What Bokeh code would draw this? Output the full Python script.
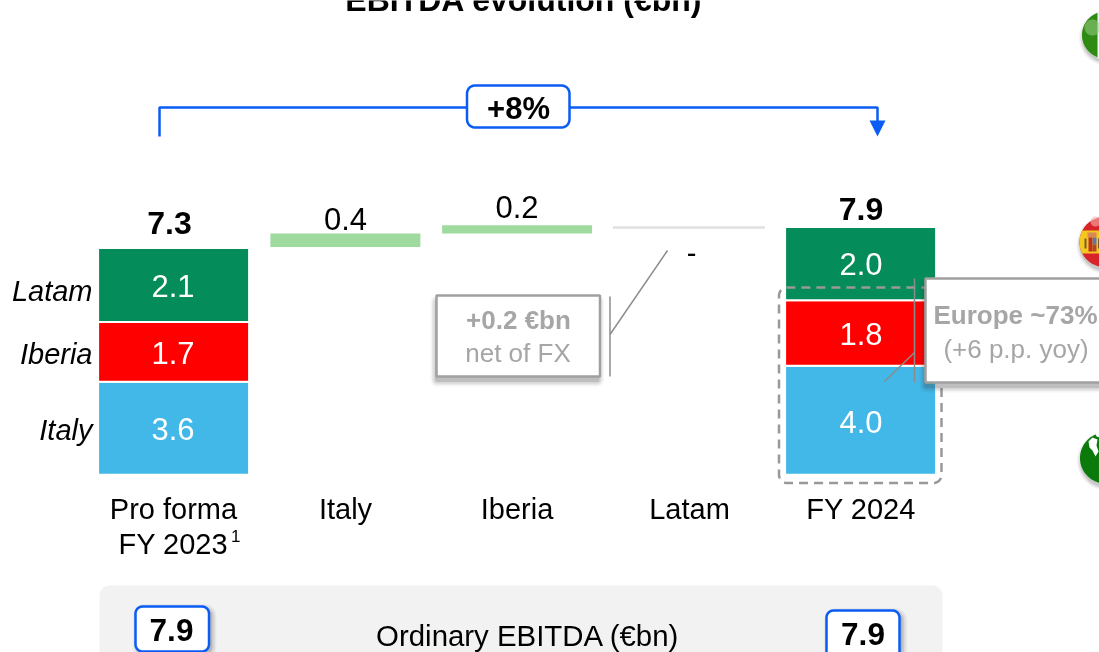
import numpy as np
from bokeh.plotting import figure
from bokeh.models import Range1d, ColumnDataSource
from bokeh.core.properties import value
from bokeh.embed import file_html
from bokeh.resources import INLINE

# ---------- data ----------
categories = ["Pro forma", "Italy", "Iberia", "Latam", "FY 2024"]
stack_names = ["Italy", "Iberia", "Latam"]
pro_forma_labels = ["3.6", "1.7", "2.1"]
fy2024_labels = ["4.0", "1.8", "2.0"]
pro_forma_heights = [3.58, 1.69, 2.09]
fy2024_heights = [4.03, 1.85, 2.07]
stack_colors = ["#41B8E8", "#FF0000", "#048C5A"]
axis_start = 0.952
bridge_x = [1, 2]
bridge_bottom = [7.39, 7.77]
bridge_top = [7.77, 8.00]
bridge_labels = ["0.4", "0.2"]
latam_level = 7.94
latam_label = "-"
totals = ["7.3", "7.9"]
growth = "+8%"
ordinary = ["7.9", "7.9"]

W, H = 1099, 652
F = "Liberation Sans"
BLUE = "#0A5CF5"
GRAY = "#A6A6A6"

PX0, PX_STEP = 173.1, 171.75
PY0, PY_STEP = 508.0, 35.4

p = figure(width=W, height=H, output_backend="svg", toolbar_location=None,
           x_range=Range1d(-PX0 / PX_STEP, (W - PX0) / PX_STEP),
           y_range=Range1d((PY0 - H) / PY_STEP, PY0 / PY_STEP),
           x_axis_type=None, y_axis_type=None, min_border=0,
           styles={"position": "fixed", "left": "0px", "top": "0px"},
           outline_line_color=None)
p.grid.visible = False
p.background_fill_color = "white"
p.border_fill_color = "white"
p.extra_x_ranges["px"] = Range1d(0, W)
p.extra_y_ranges["px"] = Range1d(H, 0)
PXR = dict(x_range_name="px", y_range_name="px")


def text(x, y, s, size=29, color="black", bold=False, italic=False, align="center"):
    style = "bold" if bold else ("italic" if italic else "normal")
    p.text(x=[x], y=[y - 0.36 * size], text=[s], text_font=value(F), text_font_size=f"{size}px",
           text_color=color, text_font_style=style, text_align=align,
           text_baseline="middle", **PXR)


def rrect(x0, y0, x1, y1, r):
    xs, ys = [], []
    for cx, cy, a0 in [(x1 - r, y0 + r, -90), (x1 - r, y1 - r, 0), (x0 + r, y1 - r, 90), (x0 + r, y0 + r, 180)]:
        t = np.radians(np.linspace(a0, a0 + 90, 7))
        xs += list(cx + r * np.cos(t))
        ys += list(cy + r * np.sin(t))
    return xs + xs[:1], ys + ys[:1]


def shadow(x0, y0, x1, y1, r=2, dx=3, dy=4):
    for g, a in [(5, .05), (3.5, .07), (2, .10), (.5, .16)]:
        xs, ys = rrect(x0 + dx - g, y0 + dy - g, x1 + dx + g, y1 + dy + g, r + g)
        p.patch(xs, ys, fill_color="#404040", fill_alpha=a, line_color=None, **PXR)


def box(x0, y0, x1, y1, r, line, lw, fill="white"):
    xs, ys = rrect(x0, y0, x1, y1, r)
    p.patch(xs, ys, fill_color=fill, line_color=line, line_width=lw, **PXR)


def circle_poly(cx, cy, r, ylo=None, yhi=None):
    t = np.radians(np.linspace(0, 360, 121))
    xs, ys = cx + r * np.cos(t), cy + r * np.sin(t)
    if ylo is not None:
        ys = np.clip(ys, ylo, yhi)
    return list(xs), list(ys)


def rect(x0, y0, x1, y1, color, alpha=1.0):
    p.patch([x0, x1, x1, x0], [y0, y0, y1, y1], fill_color=color, fill_alpha=alpha,
            line_color=None, **PXR)


# ---------- title ----------
text(523.5, 11, "EBITDA evolution (€bn)", size=32, bold=True)

# ---------- growth bracket ----------
p.line([159, 159, 877, 877], [136, 107, 107, 122], line_color=BLUE, line_width=2.5, **PXR)
p.patch([869, 885, 877], [120, 120, 136], fill_color=BLUE, line_color=None, **PXR)
box(466.5, 85, 569, 127, 8, BLUE, 2.5)
text(518, 119.5, growth, size=31, bold=True)

# ---------- stacked bars ----------
for xpos, heights in [(0, pro_forma_heights), (4, fy2024_heights)]:
    tops = np.cumsum(heights)
    bottoms = np.concatenate([[axis_start], tops[:-1]])
    src = ColumnDataSource(dict(x=[xpos] * 3, top=tops, bottom=bottoms, color=stack_colors))
    p.vbar(x="x", top="top", bottom="bottom", width=151 / PX_STEP, source=src,
           fill_color="color", line_color="white", line_width=2)

# ---------- bridge ----------
p.vbar(x=bridge_x, bottom=bridge_bottom, top=bridge_top, width=150 / PX_STEP,
       fill_color="#9FDA9F", line_color=None)
p.segment(x0=[3 - 76 / PX_STEP], x1=[3 + 76 / PX_STEP], y0=[latam_level], y1=[latam_level],
          line_color="#E0E0E0", line_width=2.5)

# ---------- value labels ----------
for s, y in zip(pro_forma_labels, [440, 364, 296.5]):
    text(172.5, y, s, size=31, color="white")
for s, y in zip(fy2024_labels, [433, 345, 275]):
    text(860.5, y, s, size=31, color="white")
text(169, 234, totals[0], size=32, bold=True)
text(860.5, 220, totals[1], size=32, bold=True)
text(345, 230, bridge_labels[0], size=31)
text(516.5, 218, bridge_labels[1], size=31)
text(691, 263, latam_label)

for s, y in zip(stack_names, [440, 364, 301]):
    text(92, y, s, italic=True, align="right")

# ---------- category labels ----------
text(173, 519, categories[0])
text(118, 553.5, "FY 2023", align="left")
text(230.5, 541.5, "1", size=17, align="left")
text(345, 519, categories[1])
text(516.5, 519, categories[2])
text(689, 519, categories[3])
text(860.5, 519, categories[4])

# ---------- left callout ----------
shadow(436, 295, 599.5, 376, dx=-1, dy=5)
box(436, 295, 599.5, 376, 0, "#A0A0A0", 2.5)
text(518, 329, "+0.2 €bn", size=26, color=GRAY, bold=True)
text(517.5, 362, "net of FX", size=26, color=GRAY)
p.line([609.5, 609.5], [296, 376], line_color="#8C8C8C", line_width=1.5, **PXR)
p.line([609.5, 667], [334, 250], line_color="#8C8C8C", line_width=1.5, **PXR)

# ---------- Europe highlight ----------
xs, ys = rrect(778.5, 287, 941, 482.5, 8)
p.line(xs, ys, line_color="#999999", line_width=2.5, line_dash="9 6", **PXR)
shadow(925, 278, 1112, 382, dx=-1, dy=5)
box(925, 278, 1112, 382, 0, "#A0A0A0", 2.5)
text(933, 324, "Europe ~73%", size=26, color=GRAY, bold=True, align="left")
text(1015.5, 358, "(+6 p.p. yoy)", size=26, color=GRAY)
p.line([914, 914], [278, 382], line_color="#8C8C8C", line_width=1.5, **PXR)
p.line([914, 884], [352, 381], line_color="#8C8C8C", line_width=1.5, **PXR)

# ---------- region icons ----------
for cx, cy, r in [(1105, 34.5, 23.5), (1104, 241.5, 25), (1105, 457.5, 25.5)]:
    for g, a in [(4, .06), (2.5, .09), (1, .14)]:
        xs, ys = circle_poly(cx + 1, cy + 3, r + g)
        p.patch(xs, ys, fill_color="#303030", fill_alpha=a, line_color=None, **PXR)

xs, ys = circle_poly(1105, 34.5, 23.5)
p.patch(xs, ys, fill_color="#2E8B12", line_color=None, **PXR)
rect(1097, 11, 1099, 58, "#F4F4F4")
xs, ys = circle_poly(1092, 27, 8)
p.patch(xs, ys, fill_color="#9CD088", fill_alpha=.55, line_color=None, **PXR)

xs, ys = circle_poly(1104, 241.5, 25)
p.patch(xs, ys, fill_color="#D8232A", line_color=None, **PXR)
xs, ys = circle_poly(1104, 241.5, 25, 230, 253)
p.patch(xs, ys, fill_color="#F4C81E", line_color=None, **PXR)
xs, ys = circle_poly(1095, 221, 5)
p.patch(xs, ys, fill_color="#F4B0B0", fill_alpha=.6, line_color=None, **PXR)
rect(1087, 232, 1096, 237, "#D88850")
rect(1088, 237, 1092, 251, "#C03020")
rect(1092, 237, 1096, 244, "#6A70A8")
rect(1092, 244, 1096, 251, "#B04828")
rect(1084, 238, 1086, 248, "#7A5A30")
rect(1097.5, 238, 1099, 248, "#7A5A30")

xs, ys = circle_poly(1105, 457.5, 25.5)
p.patch(xs, ys, fill_color="#0B7A0B", line_color=None, **PXR)
p.patch([1088, 1092, 1097, 1096, 1098, 1095, 1092, 1089],
        [441, 437, 439, 445, 451, 456, 450, 447], fill_color="white", line_color=None, **PXR)
p.patch([1095, 1099, 1099, 1096], [433, 432, 437, 436], fill_color="white", line_color=None, **PXR)

# ---------- bottom panel ----------
box(99, 585, 942, 672, 10, None, 0, fill="#F2F2F2")
text(527.5, 646, "Ordinary EBITDA (€bn)", size=29.4)
shadow(135, 606, 208.5, 651, r=7, dx=2.5, dy=2.5)
box(135, 606, 208.5, 651, 7, BLUE, 2.5)
text(171, 641, ordinary[0], size=31.5, bold=True)
shadow(826, 610, 899, 660, r=7, dx=2.5, dy=2.5)
box(826, 610, 899, 660, 7, BLUE, 2.5)
text(862.5, 645, ordinary[1], size=31.5, bold=True)

open("out.html", "w").write(file_html(p, INLINE))
